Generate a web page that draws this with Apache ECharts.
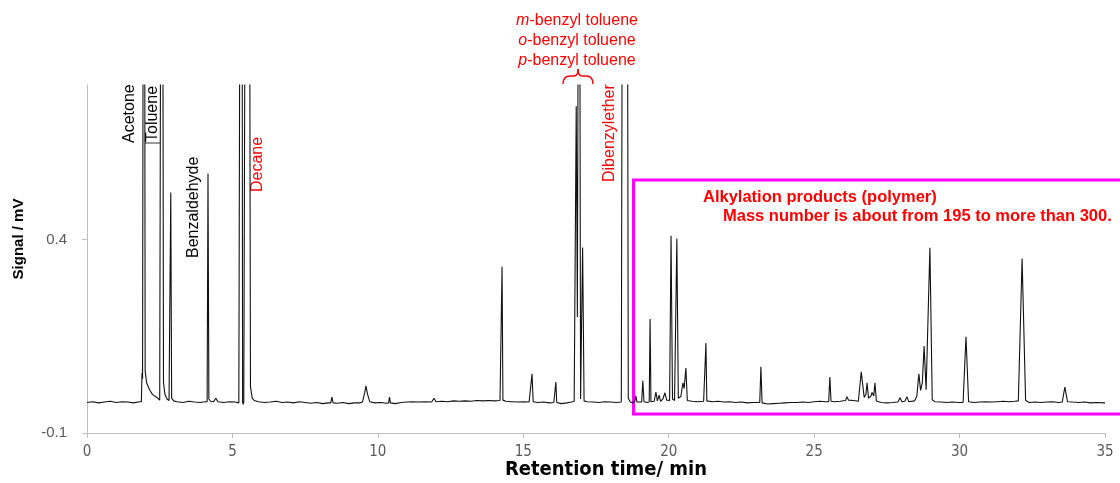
<!DOCTYPE html>
<html>
<head>
<meta charset="utf-8">
<script src="https://cdn.jsdelivr.net/npm/echarts@6/dist/echarts.min.js"></script>
<style>
  html, body { margin: 0; padding: 0; background: #ffffff; }
  #chart { width: 1120px; height: 483px; }
</style>
</head>
<body>
<div id="chart"></div>
<script>
// GC-FID chromatogram: retention time (min) vs detector signal (mV)
const xTicks = [0, 5, 10, 15, 20, 25, 30, 35];
const yTicks = [-0.1, 0.4];

// [retention time / min, signal / mV]
const trace = [
  [0.0, -0.021], [0.2, -0.019], [0.4, -0.022], [0.6, -0.020], [0.8, -0.018], [1.0, -0.021],
  [1.2, -0.019], [1.4, -0.020], [1.6, -0.022], [1.8, -0.019], [1.87, -0.019],
  // acetone
  [1.89, 0.055], [1.91, 0.040], [1.96, 2.500], [2.00, 0.060], [2.05, 0.030], [2.15, 0.012],
  [2.25, 0.000], [2.40, -0.008], [2.50, -0.015],
  // toluene
  [2.525, -0.016], [2.575, 2.500], [2.63, 0.030], [2.68, 0.000], [2.75, -0.012], [2.82, -0.016],
  [2.85, -0.017], [2.88, 0.522], [2.91, -0.010], [2.98, -0.017],
  [3.1, -0.019], [3.3, -0.021], [3.5, -0.018], [3.7, -0.020], [3.9, -0.021], [4.05, -0.019],
  // benzaldehyde
  [4.13, -0.019], [4.16, 0.571], [4.19, -0.012], [4.25, -0.018], [4.35, -0.019], [4.43, -0.010],
  [4.5, -0.019], [4.7, -0.021], [4.9, -0.019], [5.1, -0.020], [5.22, -0.022],
  // decane
  [5.26, -0.022], [5.28, -0.027], [5.31, 2.800], [5.35, -0.020], [5.37, -0.026], [5.39, -0.020],
  [5.53, 3.500], [5.62, 0.020], [5.68, -0.010], [5.75, -0.016],
  [5.9, -0.019], [6.1, -0.021], [6.3, -0.020], [6.5, -0.018], [6.7, -0.021], [6.9, -0.020],
  [7.1, -0.022], [7.3, -0.019], [7.5, -0.021], [7.7, -0.023], [7.9, -0.021], [8.1, -0.024],
  [8.3, -0.022], [8.38, -0.022], [8.42, -0.007], [8.46, -0.022], [8.6, -0.023], [8.8, -0.021],
  [9.0, -0.024], [9.2, -0.022], [9.4, -0.022],
  [9.47, -0.020], [9.55, 0.005], [9.59, 0.022], [9.64, 0.002], [9.72, -0.019],
  [9.9, -0.022], [10.1, -0.021], [10.3, -0.023],
  [10.37, -0.022], [10.40, -0.007], [10.43, -0.022],
  [10.6, -0.024], [10.8, -0.021], [11.0, -0.020], [11.2, -0.019], [11.4, -0.020], [11.6, -0.019],
  [11.85, -0.020], [11.93, -0.010], [12.0, -0.019], [12.2, -0.018], [12.4, -0.019], [12.6, -0.017],
  [12.8, -0.018], [13.0, -0.017], [13.2, -0.018], [13.4, -0.016], [13.6, -0.017], [13.8, -0.016],
  [14.0, -0.017], [14.2, -0.016],
  [14.24, -0.016], [14.27, 0.330], [14.30, -0.015],
  [14.4, -0.018], [14.6, -0.019], [14.8, -0.020], [15.0, -0.019], [15.2, -0.020],
  [15.26, -0.020], [15.30, 0.053], [15.34, -0.019],
  [15.5, -0.021], [15.7, -0.020], [15.9, -0.022], [16.05, -0.021],
  [16.09, -0.022], [16.12, 0.032], [16.15, -0.021],
  [16.3, -0.024], [16.5, -0.022], [16.65, -0.020],
  // m-, o-, p-benzyl toluene
  [16.75, -0.018], [16.82, 0.745], [16.86, 0.200], [16.92, 2.000], [16.97, -0.012],
  [17.04, 0.380], [17.09, -0.017],
  [17.2, -0.019], [17.4, -0.020], [17.6, -0.021], [17.8, -0.019], [18.0, -0.020], [18.2, -0.021],
  // dibenzyl ether
  [18.37, -0.020], [18.50, 4.500], [18.61, -0.010], [18.68, -0.020],
  // alkylation products
  [18.75, -0.022], [18.83, -0.019], [18.87, -0.004], [18.91, -0.020],
  [19.07, -0.020], [19.11, 0.035], [19.15, -0.019], [19.25, -0.021],
  [19.33, -0.020], [19.36, 0.195], [19.39, -0.019], [19.50, -0.018], [19.56, 0.006], [19.61, -0.017],
  [19.67, -0.002], [19.72, -0.018], [19.80, -0.012], [19.87, 0.004], [19.93, -0.015], [20.03, -0.016],
  [20.08, 0.410], [20.13, -0.012], [20.20, -0.016], [20.24, -0.014], [20.28, 0.403], [20.33, -0.010],
  [20.42, -0.005], [20.49, 0.030], [20.53, 0.015], [20.59, 0.068], [20.64, -0.016],
  [20.8, -0.018], [21.0, -0.019], [21.2, -0.018],
  [21.25, -0.018], [21.28, 0.133], [21.31, -0.017],
  [21.5, -0.019], [21.7, -0.018], [21.9, -0.020], [22.1, -0.019], [22.3, -0.021], [22.5, -0.020],
  [22.7, -0.022], [22.9, -0.021],
  [23.13, -0.021], [23.17, 0.071], [23.21, -0.022],
  [23.4, -0.025], [23.6, -0.024], [23.8, -0.023], [24.0, -0.022], [24.2, -0.021], [24.4, -0.021],
  [24.6, -0.020], [24.8, -0.021], [25.0, -0.019], [25.2, -0.018], [25.4, -0.019],
  [25.50, -0.019], [25.54, 0.045], [25.58, -0.018],
  [25.7, -0.019], [25.9, -0.018], [26.08, -0.016], [26.13, -0.006], [26.18, -0.015], [26.35, -0.016],
  [26.52, -0.018], [26.62, 0.058], [26.72, -0.008], [26.78, 0.000], [26.82, 0.030], [26.87, -0.010],
  [26.95, -0.005], [26.99, 0.005], [27.05, -0.004], [27.09, 0.030], [27.14, -0.017],
  [27.3, -0.021], [27.5, -0.022], [27.7, -0.021],
  [27.88, -0.020], [27.95, -0.009], [28.02, -0.019], [28.12, -0.018], [28.19, -0.006], [28.25, -0.019],
  [28.45, -0.017], [28.53, -0.005], [28.60, 0.053], [28.66, 0.010], [28.72, 0.030], [28.78, 0.125],
  [28.85, 0.012], [28.98, 0.379], [29.06, -0.014], [29.15, -0.019],
  [29.35, -0.020], [29.55, -0.021], [29.75, -0.020], [29.95, -0.021],
  [30.12, -0.021], [30.22, 0.149], [30.31, -0.019],
  [30.5, -0.021], [30.7, -0.020], [30.9, -0.019], [31.1, -0.020], [31.3, -0.019], [31.5, -0.018],
  [31.7, -0.019], [31.9, -0.018],
  [32.02, -0.017], [32.15, 0.351], [32.27, -0.016],
  [32.4, -0.021], [32.6, -0.020], [32.8, -0.021], [33.0, -0.020], [33.2, -0.019], [33.4, -0.021],
  [33.53, -0.020], [33.62, 0.019], [33.71, -0.019],
  [33.9, -0.020], [34.1, -0.021], [34.3, -0.020], [34.5, -0.022], [34.7, -0.021], [35.0, -0.022]
];

const peakNames = ['Acetone', 'Toluene', 'Benzaldehyde', 'Decane', 'Dibenzylether'];
const benzylLines = ['{i|m}-benzyl toluene', '{i|o}-benzyl toluene', '{i|p}-benzyl toluene'];
const boxLines = ['Alkylation products (polymer)', 'Mass number is about from 195 to more than 300.'];
const xTitle = 'Retention time/ min';
const yTitle = 'Signal / mV';

const RED = '#ff0000';
const AXIS = '#bfbfbf';
const TICK_TEXT = '#595959';
const SANS = "'Liberation Sans', Arial, sans-serif";
const NARROW = "'Liberation Sans Narrow', 'DejaVu Sans Condensed', sans-serif";

const chart = echarts.init(document.getElementById('chart'), null, { renderer: 'canvas' });

function vLabel(text, x, y, color) {
  return {
    type: 'text', x: x, y: y, rotation: Math.PI / 2,
    style: { text: text, fill: color, font: '16px ' + SANS, align: 'left', verticalAlign: 'middle' }
  };
}

function braceSeg(type, shape) {
  return { type: type, shape: shape, style: { stroke: RED, lineWidth: 1.5, fill: null } };
}

const graphics = [
  vLabel(peakNames[0], 130, 143, '#000'),
  vLabel(peakNames[1], 153, 142, '#000'),
  { type: 'line', shape: { x1: 145, y1: 143, x2: 160, y2: 143 }, style: { stroke: '#333', lineWidth: 1 } },
  vLabel(peakNames[2], 194, 258, '#000'),
  vLabel(peakNames[3], 258, 192, RED),
  vLabel(peakNames[4], 610, 182, RED),
  // bracket over the benzyl toluene isomers
  braceSeg('bezierCurve', { x1: 563, y1: 84, cpx1: 563, cpy1: 76, x2: 570, y2: 76 }),
  braceSeg('line', { x1: 570, y1: 76, x2: 574, y2: 76 }),
  braceSeg('bezierCurve', { x1: 574, y1: 76, cpx1: 578, cpy1: 76, x2: 578, y2: 69 }),
  braceSeg('bezierCurve', { x1: 578, y1: 69, cpx1: 578, cpy1: 76, x2: 582, y2: 76 }),
  braceSeg('line', { x1: 582, y1: 76, x2: 586, y2: 76 }),
  braceSeg('bezierCurve', { x1: 586, y1: 76, cpx1: 593, cpy1: 76, x2: 593, y2: 84 }),
  // alkylation product region
  {
    type: 'rect', shape: { x: 633.5, y: 180, width: 520, height: 234 },
    style: { stroke: '#ff00ff', lineWidth: 3, fill: null }
  },
  {
    type: 'text', x: 703, y: 197,
    style: { text: boxLines[0], fill: RED, font: 'bold 16.5px ' + SANS, align: 'left', verticalAlign: 'middle' }
  },
  {
    type: 'text', x: 723, y: 216,
    style: { text: boxLines[1], fill: RED, font: 'bold 16.5px ' + SANS, align: 'left', verticalAlign: 'middle' }
  },
  {
    type: 'text', x: 19, y: 239, rotation: Math.PI / 2,
    style: { text: yTitle, fill: '#000', font: 'bold 15px ' + SANS, align: 'center', verticalAlign: 'middle' }
  },
  {
    type: 'text', x: 606, y: 470,
    style: { text: xTitle, fill: '#000', font: 'bold 20px ' + NARROW, align: 'center', verticalAlign: 'middle' }
  }
];

benzylLines.forEach(function (line, i) {
  graphics.push({
    type: 'text', x: 577, y: 21 + i * 20,
    style: {
      text: line, fill: RED, font: '16px ' + SANS, align: 'center', verticalAlign: 'middle',
      rich: { i: { fontStyle: 'italic', fill: RED, font: 'italic 16px ' + SANS } }
    }
  });
});

chart.setOption({
  animation: false,
  backgroundColor: '#ffffff',
  grid: { left: 87, right: 15, top: 85, bottom: 50, containLabel: false },
  xAxis: {
    type: 'value', min: xTicks[0], max: xTicks[xTicks.length - 1], interval: 5,
    axisLine: { show: true, onZero: false, lineStyle: { color: AXIS, width: 1 } },
    axisTick: { show: true, length: 5, lineStyle: { color: AXIS } },
    axisLabel: { color: TICK_TEXT, fontSize: 15, fontFamily: NARROW, margin: 12 },
    splitLine: { show: false }
  },
  yAxis: {
    type: 'value', min: -0.1, max: 0.8, interval: 0.5,
    axisLine: { show: true, onZero: false, lineStyle: { color: AXIS, width: 1 } },
    axisTick: { show: true, length: 5, lineStyle: { color: AXIS }, customValues: yTicks },
    axisLabel: {
      color: TICK_TEXT, fontSize: 15, fontFamily: SANS, margin: 20,
      customValues: yTicks,
      formatter: function (v) { return v.toFixed(1); }
    },
    splitLine: { show: false }
  },
  series: [{
    type: 'line',
    data: trace,
    showSymbol: false,
    symbol: 'none',
    clip: true,
    lineStyle: { color: '#111111', width: 1.1 },
    z: 2
  }],
  graphic: graphics
});
</script>
</body>
</html>
